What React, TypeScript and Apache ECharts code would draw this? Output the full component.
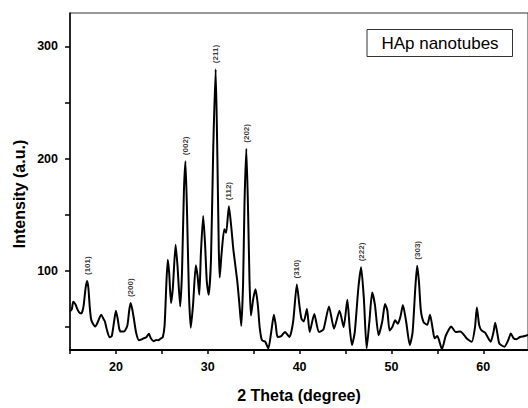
import React, { useEffect, useRef } from "react";
import * as echarts from "echarts";

const twoTheta: number[] = [
  15.0, 15.2, 15.35, 15.6, 15.8, 16.0, 16.2, 16.35, 16.5, 16.7, 16.86, 17.0, 17.15, 17.3, 17.5, 17.75,
  18.0, 18.2, 18.4, 18.6, 18.8, 19.0, 19.3, 19.55, 19.8, 20.0, 20.2, 20.35, 20.5, 20.8, 21.0, 21.25,
  21.45, 21.6, 21.8, 22.0, 22.2, 22.5, 22.8, 23.0, 23.3, 23.6, 23.8, 24.1, 24.4, 24.6, 24.9, 25.1,
  25.3, 25.5, 25.65, 25.8, 26.0, 26.2, 26.5, 26.7, 27.0, 27.2, 27.4, 27.57, 27.75, 27.95, 28.15, 28.4,
  28.7, 28.9, 29.08, 29.25, 29.5, 29.7, 29.9, 30.1, 30.35, 30.6, 30.86, 31.05, 31.2, 31.3, 31.5, 31.8,
  32.0, 32.3, 32.55, 32.8, 33.2, 33.45, 33.65, 33.85, 34.0, 34.2, 34.4, 34.55, 34.7, 34.95, 35.2, 35.45,
  35.65, 35.9, 36.25, 36.6, 36.9, 37.2, 37.4, 37.6, 38.0, 38.4, 38.9, 39.3, 39.7, 40.0, 40.2, 40.45,
  40.8, 41.1, 41.6, 42.1, 42.6, 43.2, 43.75, 44.35, 44.8, 45.2, 45.45, 45.7, 46.0, 46.4, 46.7, 47.0,
  47.3, 47.6, 47.9, 48.2, 48.6, 49.0, 49.3, 49.55, 49.8, 50.1, 50.4, 50.7, 51.0, 51.25, 51.6, 52.0,
  52.3, 52.6, 52.8, 53.0, 53.2, 53.5, 53.9, 54.2, 54.5, 54.7, 55.0, 55.5, 55.9, 56.3, 56.5, 57.0,
  57.5, 58.0, 58.2, 58.75, 59.1, 59.3, 59.55, 59.8, 60.2, 60.8, 61.1, 61.3, 61.5, 61.75, 62.3, 62.7,
  63.0, 63.3, 63.6, 64.0, 64.5, 64.87,
];

const intensity: number[] = [
  64, 66, 72.5, 70, 66, 63, 62, 64, 70, 85, 91, 85, 68, 57, 53, 50.6,
  54, 58, 61, 58, 55, 48, 41, 42, 55, 64.6, 57, 49, 46, 46, 47, 51.5,
  65, 71.4, 65, 55, 45, 38.3, 39, 40, 41, 44, 40, 37.5, 38.5, 38.3, 40, 41,
  51.5, 90, 110, 98, 71.4, 85, 123.4, 105, 68.4, 100, 170, 197.7, 150, 80, 49.5, 70,
  105, 95, 78.7, 115, 148.9, 125, 90, 78.7, 110, 210, 279.6, 200, 120, 94.2, 115, 137,
  134, 157.6, 140, 118, 92, 70, 51, 90, 160, 208.8, 150, 90, 60.3, 75, 83.7, 70,
  50, 38.3, 37, 31, 45, 61, 52, 41.2, 42, 45.6, 41.2, 55, 88, 68, 57.4, 55,
  66, 45.6, 61.7, 45.6, 48, 68.4, 48.6, 64.6, 50, 74.3, 50, 34, 45, 85, 103.2, 75,
  31, 55, 80.7, 70, 42.7, 55, 70.5, 65, 47, 50, 56, 53, 60, 69.6, 55, 34,
  45, 85, 104.7, 90, 65, 54.4, 52, 61, 48, 40, 42, 30.4, 42, 48.6, 50.6, 45.6,
  46, 42, 39.8, 37, 50, 67.5, 52, 47, 45, 37, 45, 53.9, 46, 35.4, 32.5, 38,
  44.2, 40, 39.2, 41.2, 42, 43,
];

const peakNames: string[] = ["(101)", "(200)", "(002)", "(211)", "(112)", "(202)", "(310)", "(222)", "(303)"];
const peakTheta: number[] = [16.86, 21.6, 27.57, 30.86, 32.3, 34.2, 39.7, 46.7, 52.8];
const peakIntensity: number[] = [91, 71.4, 197.7, 279.6, 157.6, 208.8, 88, 103.2, 104.7];

const xLabelValues: number[] = [20, 30, 40, 50, 60];
const xTickValues: number[] = [15, 20, 25, 30, 35, 40, 45, 50, 55, 60];
const yLabelValues: number[] = [100, 200, 300];
const yTickValues: number[] = [50, 100, 150, 200, 250, 300];

const FONT = "Liberation Sans, Arial, sans-serif";

export default function App() {
  const ref = useRef<HTMLDivElement>(null);
  useEffect(() => {
    if (!ref.current) return;
    const chart = echarts.init(ref.current, undefined, { renderer: "svg" });
    const line = twoTheta.map((x, i) => [x, intensity[i]]);
    const peaks = peakTheta.map((x, i) => ({ value: [x, peakIntensity[i]], name: peakNames[i] }));
    chart.setOption({
      animation: false,
      backgroundColor: "#fff",
      grid: {
        left: 70,
        top: 13,
        width: 463,
        height: 342,
        show: true,
        borderColor: "#333",
        borderWidth: 1,
      },
      xAxis: {
        type: "value",
        min: 15,
        max: 64.87,
        splitLine: { show: false },
        axisLine: { show: true, onZero: false, lineStyle: { color: "#000", width: 2 } },
        axisTick: { show: true, inside: false, length: 4, customValues: xTickValues, lineStyle: { color: "#000", width: 1.5 } },
        axisLabel: {
          customValues: xLabelValues,
          margin: 10,
          color: "#000",
          fontFamily: FONT,
          fontWeight: "bold",
          fontSize: 12.5,
        },
        name: "2 Theta (degree)",
        nameLocation: "middle",
        nameGap: 37,
        nameTextStyle: { color: "#000", fontFamily: FONT, fontWeight: "bold", fontSize: 16 },
      },
      yAxis: {
        type: "value",
        min: 29.6,
        max: 329.6,
        splitLine: { show: false },
        axisLine: { show: true, onZero: false, lineStyle: { color: "#000", width: 1.5 } },
        axisTick: { show: true, inside: false, length: 5, customValues: yTickValues, lineStyle: { color: "#000", width: 1.5 } },
        axisLabel: {
          customValues: yLabelValues,
          margin: 12,
          color: "#000",
          fontFamily: FONT,
          fontWeight: "bold",
          fontSize: 12.5,
        },
      },
      graphic: [
        {
          type: "text",
          x: 19,
          y: 194,
          rotation: Math.PI / 2,
          style: {
            text: "Intensity (a.u.)",
            fill: "#000",
            font: `bold 16px ${FONT}`,
            textAlign: "center",
            textVerticalAlign: "middle",
          },
        },
        {
          type: "rect",
          shape: { x: 367, y: 29.5, width: 145.5, height: 27 },
          style: { fill: "#fff", stroke: "#333", lineWidth: 1 },
        },
        {
          type: "text",
          x: 440,
          y: 43,
          style: {
            text: "HAp nanotubes",
            fill: "#000",
            font: `17px ${FONT}`,
            textAlign: "center",
            textVerticalAlign: "middle",
          },
        },
      ],
      series: [
        {
          type: "line",
          data: line,
          showSymbol: false,
          smooth: 0.2,
          lineStyle: { color: "#000", width: 2 },
          clip: true,
          z: 2,
        },
        {
          type: "scatter",
          data: peaks,
          symbolSize: 0,
          z: 3,
          label: {
            show: true,
            position: "top",
            distance: 4,
            rotate: 90,
            align: "left",
            verticalAlign: "middle",
            offset: [2, 0],
            formatter: (p: any) => p.name,
            color: "#000",
            fontFamily: FONT,
            fontWeight: "bold",
            fontSize: 8,
          },
        },
      ],
    });
    return () => chart.dispose();
  }, []);
  return <div ref={ref} style={{ position: "fixed", left: 0, top: 0, width: 528, height: 408 }} />;
}
